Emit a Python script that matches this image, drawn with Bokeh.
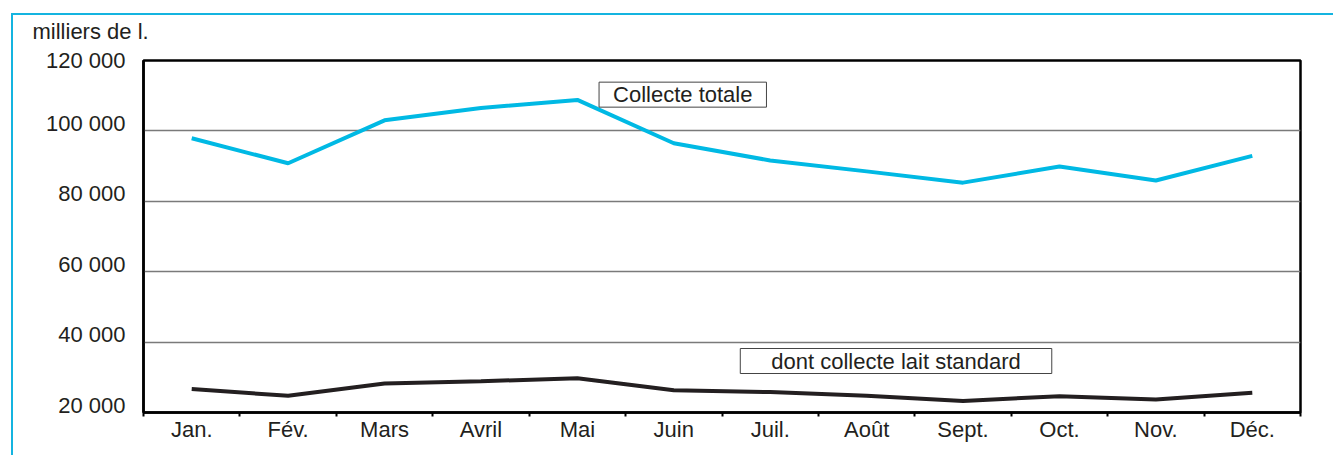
from bokeh.plotting import figure
from bokeh.models import FixedTicker, Label, Range1d
from bokeh.embed import file_html
from bokeh.resources import INLINE

months = ["Jan.", "Fév.", "Mars", "Avril", "Mai", "Juin",
          "Juil.", "Août", "Sept.", "Oct.", "Nov.", "Déc."]
collecte_totale = [97900, 90800, 103000, 106500, 108800, 96500,
                   91600, 88500, 85300, 89900, 85900, 92900]
collecte_standard = [26650, 24750, 28250, 28900, 29700, 26350,
                     25800, 24750, 23300, 24650, 23700, 25600]
y_ticks = [20000, 40000, 60000, 80000, 100000, 120000]
y_tick_labels = ["20 000", "40 000", "60 000", "80 000", "100 000", "120 000"]
grid_ticks = [40000, 60000, 80000, 100000]
unit_label = "milliers de l."
series_names = ["Collecte totale", "dont collecte lait standard"]

FONT = "Liberation Sans"
TXT = "#231f20"
CYAN = "#00b9e4"
FRAME_CYAN = "#14b4e0"

xs = list(range(len(months)))
bounds = [i - 0.5 for i in range(len(months) + 1)]

p = figure(width=1333, height=455, x_range=Range1d(-0.5, 11.5),
           y_range=Range1d(20000, 120000), output_backend="svg",
           toolbar_location=None, min_border_left=143, min_border_right=33,
           min_border_top=60, min_border_bottom=43)
p.styles = {"background": (f"linear-gradient({FRAME_CYAN},{FRAME_CYAN}) 11px 13px / 100% 2px no-repeat, "
                           f"linear-gradient({FRAME_CYAN},{FRAME_CYAN}) 11px 13px / 2px 100% no-repeat")}
p.border_fill_color = None
p.background_fill_color = "white"
p.outline_line_color = "black"
p.outline_line_width = 2.5

p.title.text = unit_label
p.title.align = "left"
p.title.offset = -111
p.title.standoff = 33
p.title.text_font = FONT
p.title.text_font_size = "22px"
p.title.text_font_style = "normal"
p.title.text_color = TXT

p.xgrid.visible = False
p.ygrid.ticker = FixedTicker(ticks=grid_ticks)
p.ygrid.grid_line_color = "#7a7a7a"
p.ygrid.grid_line_width = 1.5

ya = p.yaxis[0]
ya.ticker = FixedTicker(ticks=y_ticks)
ya.major_label_overrides = {t: (l if t == y_ticks[-1] else l + "\n")
                            for t, l in zip(y_ticks, y_tick_labels)}
ya.major_label_text_line_height = 0.6
ya.major_tick_line_color = None
ya.minor_tick_line_color = None
ya.major_tick_out = 0
ya.major_tick_in = 0
ya.axis_line_color = "black"
ya.axis_line_width = 2.5
ya.major_label_standoff = 18
ya.major_label_text_font = FONT
ya.major_label_text_font_size = "22px"
ya.major_label_text_color = TXT

xa = p.xaxis[0]
xa.ticker = FixedTicker(ticks=xs, minor_ticks=bounds)
xa.major_label_overrides = {i: m for i, m in zip(xs, months)}
xa.major_tick_line_color = None
xa.major_tick_out = 3
xa.major_tick_in = 0
xa.minor_tick_line_color = "black"
xa.minor_tick_line_width = 2
xa.minor_tick_out = 4
xa.minor_tick_in = 0
xa.axis_line_color = "black"
xa.axis_line_width = 2.5
xa.major_label_standoff = 0
xa.major_label_text_font = FONT
xa.major_label_text_font_size = "22px"
xa.major_label_text_color = TXT

p.line(xs, collecte_totale, line_color=CYAN, line_width=4)
p.line(xs, collecte_standard, line_color="#231f20", line_width=4)

p.add_layout(Label(x=5.093, y=110300, text=series_names[0], text_align="center",
                   text_baseline="middle", text_font=FONT, text_font_size="22px",
                   text_color=TXT, border_line_color="#444444", border_line_width=1,
                   background_fill_color="white", padding=dict(left=14, right=14, top=0, bottom=0)))
p.add_layout(Label(x=7.305, y=34630, text=series_names[1], text_align="center",
                   text_baseline="middle", text_font=FONT, text_font_size="22px",
                   text_color=TXT, border_line_color="#444444", border_line_width=1,
                   background_fill_color="white", padding=dict(left=31, right=31, top=0, bottom=0)))

open("out.html", "w").write(file_html(p, INLINE))
